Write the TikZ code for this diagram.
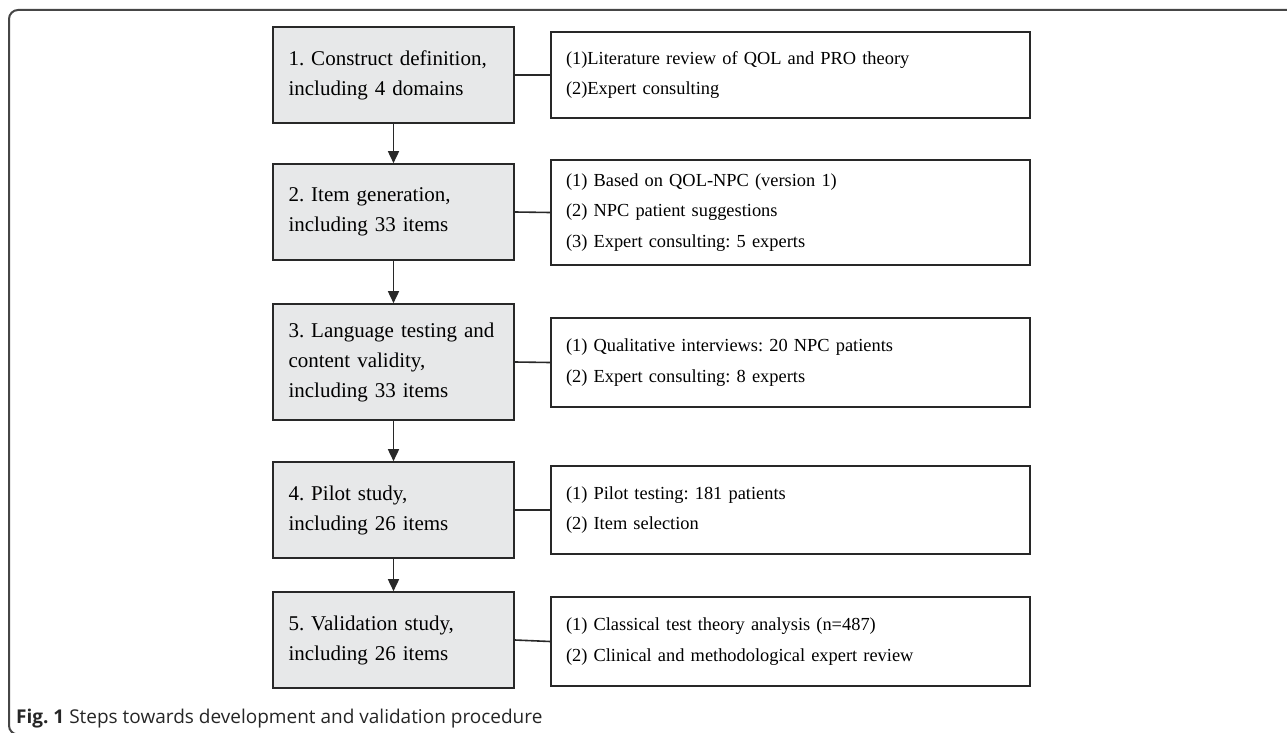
\documentclass[tikz,border=0pt]{standalone}
\usepackage{fontspec}
\setmainfont{Liberation Serif}
\newfontfamily\capfont{Open Sans}
\usetikzlibrary{arrows.meta}
\definecolor{boxgray}{RGB}{231,232,233}
\definecolor{linecol}{RGB}{40,40,40}
\definecolor{framecol}{RGB}{70,70,70}
\frenchspacing
\begin{document}
\begin{tikzpicture}[x=1pt,y=-1pt,
  stepbox/.style={draw=linecol, line width=1.6pt, fill=boxgray, minimum width=241pt,
    text width=210pt, inner xsep=15.5pt, inner ysep=0pt, align=left,
    font=\fontsize{21}{30}\selectfont},
  notebox/.style={draw=linecol, line width=1.6pt, fill=white, minimum width=479pt,
    text width=449pt, inner xsep=15pt, inner ysep=0pt, align=left,
    font=\fontsize{18.4}{30.5}\selectfont},
  conn/.style={draw=linecol, line width=1.6pt},
  arr/.style={draw=linecol, line width=1.6pt, -{Triangle[length=12pt,width=11pt]}}
]
\useasboundingbox (0,0) rectangle (1287,733);
% outer frame
\draw[framecol, line width=2pt, rounded corners=9pt] (1295,10) -- (9,10) -- (9,734.5) -- (1295,734.5);

% step boxes
\node[stepbox, minimum height=96pt]  (s1) at (393.5,75)  {1. Construct definition,\\including 4 domains};
\node[stepbox, minimum height=96pt]  (s2) at (393.5,212) {2. Item generation,\\including 33 items};
\node[stepbox, minimum height=116pt] (s3) at (393.5,362) {3. Language testing and\\content validity,\\including 33 items};
\node[stepbox, minimum height=96pt]  (s4) at (393.5,510) {4. Pilot study,\\including 26 items};
\node[stepbox, minimum height=96pt]  (s5) at (393.5,640) {5. Validation study,\\including 26 items};

% note boxes
\node[notebox, minimum height=86pt]  (r1) at (790.5,75)    {(1)Literature review of QOL and PRO theory\\(2)Expert consulting};
\node[notebox, minimum height=105pt] (r2) at (790.5,212.5) {(1) Based on QOL-NPC (version 1)\\(2) NPC patient suggestions\\(3) Expert consulting: 5 experts};
\node[notebox, minimum height=89pt]  (r3) at (790.5,362.5) {(1) Qualitative interviews: 20 NPC patients\\(2) Expert consulting: 8 experts};
\node[notebox, minimum height=88pt]  (r4) at (790.5,510)   {(1) Pilot testing: 181 patients\\(2) Item selection};
\node[notebox, minimum height=89pt]  (r5) at (790.5,641.5) {(1) Classical test theory analysis (n=487)\\(2) Clinical and methodological expert review};

% connectors
\foreach \i in {1,...,5} { \draw[conn] (s\i.east) -- (r\i.west); }
\draw[arr] (s1.south) -- (s2.north);
\draw[arr] (s2.south) -- (s3.north);
\draw[arr] (s3.south) -- (s4.north);
\draw[arr] (s4.south) -- (s5.north);

% caption
\node[anchor=base west, inner sep=0pt, font=\capfont\fontsize{19}{22}\selectfont, text=black!85] (cap) at (16,723)
  {\textbf{Fig. 1} Steps towards development and validation procedure};
\end{tikzpicture}
\end{document}
